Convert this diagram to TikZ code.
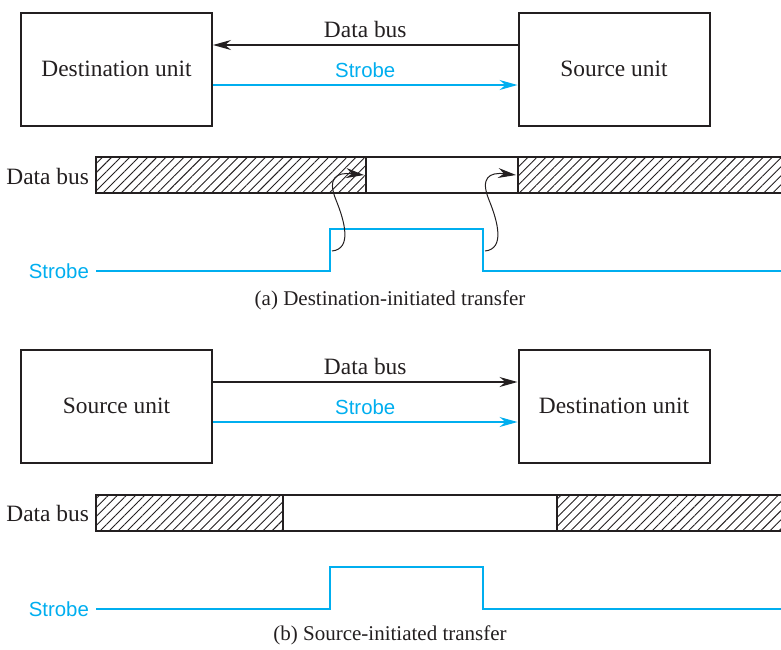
\documentclass[tikz,border=0pt]{standalone}
\usepackage{fontspec}
\setmainfont{Liberation Serif}
\setsansfont{Liberation Sans}
\usetikzlibrary{arrows.meta,patterns.meta}
\definecolor{strobecol}{RGB}{0,174,239}
\definecolor{inkcol}{RGB}{35,31,32}

\begin{document}
\begin{tikzpicture}[x=0.5pt, y=-0.5pt,
  tip/.style={-{Stealth[length=9pt,width=5pt,inset=3pt]}},
  unitbox/.style={draw=inkcol, line width=1pt, minimum width=95.5pt, minimum height=56.5pt,
    text=inkcol, font=\fontsize{11.7}{14}\selectfont},
  buslbl/.style={text=inkcol, font=\fontsize{11.7}{14}\selectfont},
  strobelbl/.style={text=strobecol, font=\sffamily\fontsize{10.2}{12}\selectfont},
  caption/.style={text=inkcol, font=\fontsize{10.5}{12}\selectfont},
  busline/.style={draw=inkcol, line width=0.7pt, tip},
  strobeline/.style={draw=strobecol, line width=0.6pt, tip},
  hatch/.style={pattern={Lines[angle=45,distance=3.2pt,line width=0.45pt]}, pattern color=inkcol},
  bar/.style={draw=inkcol, line width=1pt},
  wave/.style={draw=strobecol, line width=1.3pt},
  cause/.style={draw=inkcol, line width=0.5pt, tip}]
	\useasboundingbox (0,0) rectangle (781,649);

	% (a) destination-initiated
	\node[unitbox] (dstA) at (116.5,69) {Destination unit};
	\node[unitbox] (srcA) at (614,69) {Source unit};
	\draw[busline] ([yshift=12pt]srcA.west) -- ([yshift=12pt]dstA.east)
		node[midway, above, buslbl] (busArrA) {Data bus};
	\draw[strobeline] ([yshift=-8pt]dstA.east) -- ([yshift=-8pt]srcA.west)
		node[midway, above, strobelbl] (stbArrA) {Strobe};

	\node[buslbl, anchor=east] (busA) at (96,176) {Data bus};
	\fill[hatch] (96,157) rectangle (366,193);
	\fill[hatch] (518,157) rectangle (781,193);
	\draw[bar] (781,157) -- (96,157) -- (96,193) -- (781,193);
	\draw[bar] (366,157) -- (366,193);
	\draw[bar] (518,157) -- (518,193);

	\node[strobelbl, anchor=east] (stbA) at (96,271) {Strobe};
	\draw[wave] (stbA.east) -- (330,271) -- (330,229) -- (483,229) -- (483,271) -- (781,271);

	\coordinate (riseA) at (332,251);
	\coordinate (validA) at (364,175);
	\coordinate (fallA) at (485,251);
	\coordinate (doneA) at (516,175);
	\draw[cause] (riseA) .. controls (352,249) and (345,222) .. (336,200)
		.. controls (327,178) and (336,172) .. (validA);
	\draw[cause] (fallA) .. controls (505,249) and (498,222) .. (489,200)
		.. controls (480,178) and (489,172) .. (doneA);

	\node[caption] (capA) at (390,300) {(a) Destination-initiated transfer};

	% (b) source-initiated
	\node[unitbox] (srcB) at (116.5,406) {Source unit};
	\node[unitbox] (dstB) at (614,406) {Destination unit};
	\draw[busline] ([yshift=12pt]srcB.east) -- ([yshift=12pt]dstB.west)
		node[midway, above, buslbl] (busArrB) {Data bus};
	\draw[strobeline] ([yshift=-8pt]srcB.east) -- ([yshift=-8pt]dstB.west)
		node[midway, above, strobelbl] (stbArrB) {Strobe};

	\node[buslbl, anchor=east] (busB) at (96,513) {Data bus};
	\fill[hatch] (96,495) rectangle (283,531);
	\fill[hatch] (557,495) rectangle (781,531);
	\draw[bar] (781,495) -- (96,495) -- (96,531) -- (781,531);
	\draw[bar] (283,495) -- (283,531);
	\draw[bar] (557,495) -- (557,531);

	\node[strobelbl, anchor=east] (stbB) at (96,609) {Strobe};
	\draw[wave] (stbB.east) -- (330,609) -- (330,567) -- (483,567) -- (483,609) -- (781,609);

	\node[caption] (capB) at (390,635) {(b) Source-initiated transfer};
\end{tikzpicture}
\end{document}
